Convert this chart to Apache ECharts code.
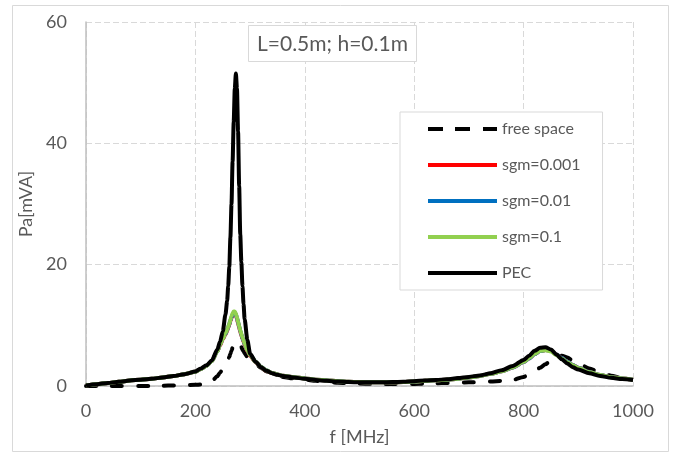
<!DOCTYPE html>
<html>
<head>
<meta charset="utf-8">
<script src="https://cdn.jsdelivr.net/npm/echarts@6/dist/echarts.min.js"></script>
<style>
  html, body { margin: 0; padding: 0; background: #fff; }
  #chart { width: 673px; height: 456px; }
</style>
</head>
<body>
<div id="chart"></div>
<script>
// Frequency samples (MHz), denser around the two resonances
const freq = [
  0, 20, 40, 60, 80, 100, 120, 140, 160, 180,
  200, 210, 220, 230, 240, 245, 250, 255, 258, 260,
  262, 264, 266, 268, 270, 272, 274, 276, 278, 280,
  282, 284, 286, 288, 290, 295, 300, 310, 320, 330,
  340, 350, 360, 380, 400, 420, 440, 460, 480, 500,
  520, 540, 560, 580, 600, 620, 640, 660, 680, 700,
  720, 740, 760, 780, 800, 810, 820, 830, 840, 850,
  860, 870, 880, 890, 900, 920, 940, 960, 980, 1000
];

// Pa [mVA] for each configuration
const freeSpace = [
  0, 0, 0, 0, 0, 0, 0, 0.05, 0.1, 0.15,
  0.2, 0.25, 0.35, 0.8, 1.6, 2.2, 2.8, 3.5, 4.0, 4.4,
  4.8, 5.3, 5.8, 6.3, 6.7, 7.0, 7.2, 7.3, 7.2, 7.0,
  6.7, 6.4, 6.0, 5.7, 5.4, 4.8, 4.3, 3.6, 3.0, 2.4,
  2.0, 1.7, 1.5, 1.25, 1.05, 0.85, 0.7, 0.55, 0.45, 0.4,
  0.35, 0.35, 0.35, 0.35, 0.35, 0.4, 0.45, 0.5, 0.55, 0.6,
  0.65, 0.75, 0.85, 1.0, 1.5, 1.9, 2.4, 3.0, 3.6, 4.2,
  4.8, 5.0, 4.7, 4.2, 3.7, 2.9, 2.2, 1.7, 1.3, 1.0
];

const sgm0001 = [
  0.1, 0.3, 0.5, 0.7, 0.9, 1.05, 1.2, 1.4, 1.65, 1.95,
  2.35, 2.8, 3.3, 4.1, 5.7, 6.7, 7.7, 8.5, 9.1, 9.6,
  10.1, 10.7, 11.2, 11.7, 12.0, 12.0, 11.7, 11.1, 10.4, 9.7,
  9.0, 8.4, 7.8, 7.3, 6.8, 5.8, 5.0, 3.95, 3.1, 2.5,
  2.15, 1.9, 1.7, 1.45, 1.25, 1.05, 0.9, 0.8, 0.7, 0.65,
  0.6, 0.6, 0.6, 0.65, 0.75, 0.85, 0.95, 1.05, 1.2, 1.4,
  1.65, 2.0, 2.45, 3.05, 3.95, 4.55, 5.25, 5.75, 5.95, 5.8,
  5.2, 4.6, 4.0, 3.45, 3.0, 2.3, 1.8, 1.45, 1.25, 1.05
];

const sgm001 = [
  0.1, 0.3, 0.5, 0.7, 0.9, 1.05, 1.2, 1.4, 1.65, 1.95,
  2.35, 2.8, 3.3, 4.1, 5.7, 6.8, 7.8, 8.6, 9.2, 9.7,
  10.2, 10.8, 11.3, 11.8, 12.1, 12.1, 11.8, 11.2, 10.5, 9.8,
  9.1, 8.5, 7.9, 7.4, 6.9, 5.9, 5.1, 4.0, 3.15, 2.55,
  2.15, 1.9, 1.7, 1.45, 1.25, 1.05, 0.9, 0.8, 0.7, 0.65,
  0.6, 0.6, 0.6, 0.65, 0.75, 0.85, 0.95, 1.05, 1.2, 1.4,
  1.65, 2.0, 2.45, 3.05, 3.95, 4.55, 5.25, 5.75, 5.95, 5.8,
  5.2, 4.6, 4.0, 3.45, 3.0, 2.3, 1.8, 1.45, 1.25, 1.05
];

const sgm01 = [
  0.1, 0.3, 0.5, 0.7, 0.9, 1.05, 1.2, 1.4, 1.65, 1.95,
  2.35, 2.8, 3.3, 4.1, 5.7, 6.8, 7.8, 8.7, 9.3, 9.8,
  10.3, 10.9, 11.5, 12.0, 12.3, 12.3, 11.9, 11.3, 10.6, 9.9,
  9.2, 8.6, 8.0, 7.5, 7.0, 5.9, 5.1, 4.0, 3.15, 2.55,
  2.15, 1.9, 1.7, 1.45, 1.25, 1.05, 0.9, 0.8, 0.7, 0.65,
  0.6, 0.6, 0.6, 0.65, 0.75, 0.85, 0.95, 1.05, 1.2, 1.4,
  1.65, 2.0, 2.45, 3.1, 4.0, 4.6, 5.3, 5.8, 5.9, 5.7,
  5.1, 4.5, 3.9, 3.4, 2.95, 2.25, 1.8, 1.45, 1.25, 1.05
];

const pec = [
  0.1, 0.3, 0.5, 0.7, 0.9, 1.05, 1.2, 1.4, 1.65, 1.95,
  2.4, 2.9, 3.4, 4.2, 6.0, 7.3, 9.0, 11.8, 14.0, 16.5,
  19.7, 24.5, 30, 37, 43.5, 49, 51.5, 49, 42, 33,
  25, 20.5, 16.5, 13.5, 11.0, 7.6, 5.3, 4.0, 3.1, 2.5,
  2.1, 1.85, 1.65, 1.4, 1.2, 1.0, 0.85, 0.75, 0.65, 0.6,
  0.6, 0.6, 0.65, 0.7, 0.8, 0.9, 1.0, 1.1, 1.3, 1.5,
  1.75, 2.1, 2.6, 3.3, 4.3, 5.0, 5.8, 6.3, 6.4, 6.0,
  5.2, 4.4, 3.7, 3.1, 2.7, 2.1, 1.65, 1.35, 1.15, 1.0
];

const seriesNames = ['free space', 'sgm=0.001', 'sgm=0.01', 'sgm=0.1', 'PEC'];
const seriesValues = [freeSpace, sgm0001, sgm001, sgm01, pec];
const seriesColors = ['#000000', '#ff0000', '#0070c0', '#92d050', '#000000'];

const xTicks = [0, 200, 400, 600, 800, 1000];
const yTicks = [0, 20, 40, 60];

const FONT = 'Lato';
const TEXT = '#595959';
const GRID_LINE = '#d9d9d9';

// Legend keys: a plain bar for solid curves, three short bars for the dashed one
const SOLID_KEY = 'path://M0,0H69V4H0Z';
const DASHED_KEY = 'path://M0,0H15V4H0Z M27,0H42V4H27Z M55,0H69V4H55Z';

const series = seriesNames.map((name, k) => ({
  name: name,
  type: 'line',
  symbol: 'none',
  smooth: 0.25,
  smoothMonotone: 'x',
  data: freq.map((f, i) => [f, seriesValues[k][i]]),
  lineStyle: {
    color: seriesColors[k],
    width: 4,
    type: k === 0 ? [10, 16] : 'solid',
    cap: k === 0 ? 'round' : 'butt',
    join: 'round'
  },
  itemStyle: { color: seriesColors[k] },
  z: 2 + k,
  emphasis: { disabled: true }
}));

const chart = echarts.init(document.getElementById('chart'), null, { renderer: 'canvas' });
chart.setOption({
  animation: false,
  backgroundColor: '#ffffff',
  title: {
    text: 'L=0.5m; h=0.1m',
    left: 248,
    top: 25,
    padding: [7, 9, 6, 9],
    borderColor: GRID_LINE,
    borderWidth: 1,
    backgroundColor: '#ffffff',
    textStyle: { fontFamily: FONT, fontSize: 21, fontWeight: 'normal', color: TEXT, lineHeight: 24 }
  },
  legend: {
    orient: 'vertical',
    left: 400,
    top: 112,
    padding: [9, 22, 9, 28],
    itemGap: 20,
    itemWidth: 69,
    itemHeight: 4,
    symbolKeepAspect: false,
    backgroundColor: '#ffffff',
    borderColor: GRID_LINE,
    borderWidth: 1,
    borderRadius: 0,
    data: seriesNames.map((name, k) => ({
      name: name,
      icon: k === 0 ? DASHED_KEY : SOLID_KEY,
      itemStyle: { color: seriesColors[k], borderWidth: 0 }
    })),
    textStyle: { fontFamily: FONT, fontSize: 16, color: TEXT, lineHeight: 16 }
  },
  grid: {
    left: 86, top: 22, width: 547, height: 364,
    containLabel: false,
    outerBoundsMode: 'none'
  },
  xAxis: {
    type: 'value',
    min: xTicks[0],
    max: xTicks[xTicks.length - 1],
    interval: xTicks[1] - xTicks[0],
    name: 'f [MHz]',
    nameLocation: 'middle',
    nameGap: 42,
    nameTextStyle: { fontFamily: FONT, fontSize: 18, color: TEXT },
    axisLine: { show: true, onZero: false, lineStyle: { color: '#bfbfbf', width: 1.5 } },
    axisTick: { show: false },
    axisLabel: { fontFamily: FONT, fontSize: 18, color: TEXT, margin: 16, formatter: v => String(v) },
    splitLine: { show: true, lineStyle: { color: GRID_LINE, width: 1, type: [6, 3] } }
  },
  yAxis: {
    type: 'value',
    min: yTicks[0],
    max: yTicks[yTicks.length - 1],
    interval: yTicks[1] - yTicks[0],
    name: 'Pa[mVA]',
    nameLocation: 'middle',
    nameRotate: 90,
    nameGap: 46,
    nameTextStyle: { fontFamily: FONT, fontSize: 18, color: TEXT },
    axisLine: { show: true, onZero: false, lineStyle: { color: '#bfbfbf', width: 1.5 } },
    axisTick: { show: false },
    axisLabel: { fontFamily: FONT, fontSize: 18, color: TEXT, margin: 19, formatter: v => String(v) },
    splitLine: { show: true, lineStyle: { color: GRID_LINE, width: 1, type: [6, 3] } }
  },
  graphic: [{
    type: 'rect',
    silent: true,
    z: -10,
    shape: { x: 12.5, y: 5.5, width: 656, height: 446 },
    style: { fill: 'none', stroke: GRID_LINE, lineWidth: 1 }
  }],
  series: series
});
</script>
</body>
</html>
